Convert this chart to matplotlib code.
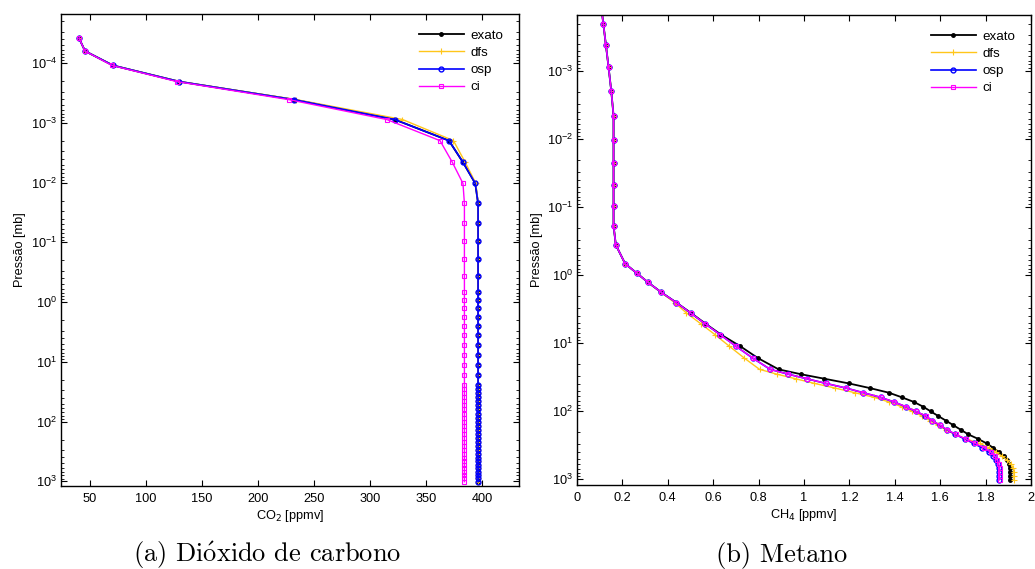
import numpy as np
import matplotlib
matplotlib.use('Agg')
import matplotlib.pyplot as plt
from matplotlib.ticker import LogLocator, NullFormatter, FuncFormatter, MultipleLocator

plt.rcParams['font.family'] = ['Liberation Sans', 'DejaVu Sans']
plt.rcParams['font.size'] = 9.2

# niveis de pressao [mb] (perfil de latitude media inverno, 0 a 120 km)
pres = [1018, 897.3, 789.7, 693.8, 608.1, 531.3, 462.7, 401.2, 346.6, 298.8,
        256.8, 219.9, 188.2, 161.0, 137.8, 117.8, 100.7, 86.1, 73.5, 62.8,
        53.7, 45.8, 39.1, 33.4, 28.6, 24.3, 16.6, 11.1, 7.56, 5.18,
        3.6, 2.53, 1.8, 1.28, 0.94, 0.68, 0.36, 0.188, 0.0955, 0.0471,
        0.0222, 0.0103, 0.00456, 0.00198, 0.000877, 0.000407, 0.000203, 0.000109, 6.26e-5, 3.83e-5]

# CO2 [ppmv]
co2_exato = [396.5, 396.5, 396.5, 396.5, 396.5, 396.5, 396.5, 396.5, 396.5, 396.5,
             396.5, 396.5, 396.5, 396.5, 396.5, 396.5, 396.5, 396.5, 396.5, 396.5,
             396.5, 396.5, 396.5, 396.5, 396.5, 396.5, 396.5, 396.5, 396.5, 396.5,
             396.5, 396.5, 396.5, 396.5, 396.5, 396.5, 396.5, 396.5, 396.5, 396.5,
             396.5, 394.0, 383.0, 370.5, 322.0, 232.0, 129.5, 70.5, 45.5, 40.2]
co2_dfs = [396.5, 396.5, 396.5, 396.5, 396.5, 396.5, 396.5, 396.5, 396.5, 396.5,
           396.5, 396.5, 396.5, 396.5, 396.5, 396.5, 396.5, 396.5, 396.5, 396.5,
           396.5, 396.5, 396.5, 396.5, 396.5, 396.5, 396.5, 396.5, 396.5, 396.5,
           396.5, 396.5, 396.5, 396.5, 396.5, 396.5, 396.5, 396.5, 396.5, 396.5,
           396.5, 394.5, 385.0, 374.5, 329.0, 234.0, 130.0, 70.5, 45.5, 40.2]
co2_osp = [396.5, 396.5, 396.5, 396.5, 396.5, 396.5, 396.5, 396.5, 396.5, 396.5,
           396.5, 396.5, 396.5, 396.5, 396.5, 396.5, 396.5, 396.5, 396.5, 396.5,
           396.5, 396.5, 396.5, 396.5, 396.5, 396.5, 396.5, 396.5, 396.5, 396.5,
           396.5, 396.5, 396.5, 396.5, 396.5, 396.5, 396.5, 396.5, 396.5, 396.5,
           396.5, 394.0, 383.0, 370.5, 322.0, 232.0, 129.5, 70.5, 45.5, 40.2]
co2_ci = [384.3, 384.3, 384.3, 384.3, 384.3, 384.3, 384.3, 384.3, 384.3, 384.3,
          384.3, 384.3, 384.3, 384.3, 384.3, 384.3, 384.3, 384.3, 384.3, 384.3,
          384.3, 384.3, 384.3, 384.3, 384.3, 384.3, 384.3, 384.3, 384.3, 384.3,
          384.3, 384.3, 384.3, 384.3, 384.3, 384.3, 384.3, 384.3, 384.3, 384.3,
          384.3, 383.0, 373.5, 362.5, 315.0, 227.4, 127.4, 69.6, 45.5, 40.2]

# CH4 [ppmv]
ch4_exato = [1.906, 1.906, 1.906, 1.906, 1.903, 1.896, 1.881, 1.859, 1.834, 1.805,
             1.768, 1.724, 1.691, 1.658, 1.625, 1.591, 1.558, 1.525, 1.485, 1.432,
             1.375, 1.290, 1.197, 1.090, 0.985, 0.888, 0.797, 0.719, 0.636, 0.566,
             0.502, 0.437, 0.372, 0.313, 0.264, 0.212, 0.171, 0.161, 0.161, 0.161,
             0.161, 0.161, 0.161, 0.151, 0.139, 0.127, 0.116, 0.106, 0.096, 0.087]
ch4_dfs = [1.925, 1.925, 1.925, 1.922, 1.913, 1.896, 1.874, 1.845, 1.815, 1.775,
           1.715, 1.665, 1.625, 1.590, 1.555, 1.520, 1.478, 1.430, 1.375, 1.310,
           1.225, 1.137, 1.046, 0.963, 0.880, 0.804, 0.737, 0.671, 0.609, 0.545,
           0.482, 0.430, 0.370, 0.313, 0.264, 0.212, 0.171, 0.161, 0.161, 0.161,
           0.161, 0.161, 0.161, 0.151, 0.139, 0.127, 0.116, 0.106, 0.096, 0.087]
ch4_osp = [1.858, 1.858, 1.858, 1.857, 1.854, 1.846, 1.834, 1.814, 1.785, 1.748,
           1.708, 1.667, 1.630, 1.598, 1.565, 1.535, 1.492, 1.448, 1.397, 1.338,
           1.262, 1.185, 1.096, 1.012, 0.930, 0.851, 0.774, 0.700, 0.632, 0.564,
           0.500, 0.437, 0.372, 0.313, 0.264, 0.212, 0.171, 0.161, 0.161, 0.161,
           0.161, 0.161, 0.161, 0.151, 0.139, 0.127, 0.116, 0.106, 0.096, 0.087]
ch4_ci = [1.862, 1.862, 1.862, 1.862, 1.859, 1.852, 1.842, 1.822, 1.795, 1.755,
          1.713, 1.669, 1.632, 1.600, 1.566, 1.537, 1.493, 1.449, 1.398, 1.339,
          1.262, 1.185, 1.096, 1.012, 0.930, 0.851, 0.774, 0.700, 0.632, 0.564,
          0.500, 0.437, 0.372, 0.313, 0.264, 0.212, 0.171, 0.161, 0.161, 0.161,
          0.161, 0.161, 0.161, 0.151, 0.139, 0.127, 0.116, 0.106, 0.096, 0.087]

nomes = ['exato', 'dfs', 'osp', 'ci']
estilos = [dict(color='black', marker='.', markersize=5, lw=1.3),
           dict(color='#FFC61A', marker='+', markersize=5, lw=1.0, mew=0.8),
           dict(color='#0000FF', marker='o', markersize=3.5, lw=1.2, mfc='none', mew=1.0),
           dict(color='#FF00FF', marker='s', markersize=3.5, lw=1.0, mfc='none', mew=0.8)]

fig = plt.figure(figsize=(10.35, 5.69), dpi=100)
ax1 = fig.add_axes([0.0589, 0.1459, 0.4425, 0.8295])
ax2 = fig.add_axes([0.5575, 0.1476, 0.4386, 0.8260])


def prepara(ax, ylim, decadas):
    ax.set_yscale('log')
    ax.set_ylim(ylim)
    ax.set_yticks(decadas)
    ax.yaxis.set_minor_locator(LogLocator(base=10, subs=np.arange(2, 10), numticks=100))
    ax.yaxis.set_minor_formatter(NullFormatter())
    ax.tick_params(which='both', direction='in', top=True, right=True, pad=3)
    ax.tick_params(axis='x', pad=5)
    ax.tick_params(which='major', length=4)
    ax.tick_params(which='minor', length=2.5)
    for s in ax.spines.values():
        s.set_linewidth(1.0)
    ax.set_ylabel('Pressão [mb]', labelpad=3)
    ax.legend(loc='upper right', frameon=False, handlelength=3.4, handletextpad=0.5,
              labelspacing=0.37, borderaxespad=0.75, fontsize=9.6)


for serie, nome, st in zip([co2_exato, co2_dfs, co2_osp, co2_ci], nomes, estilos):
    ax1.plot(serie, pres, label=nome, **st)
ax1.set_xlim(24, 433)
ax1.xaxis.set_major_locator(MultipleLocator(50))
ax1.set_xlabel('CO$_2$ [ppmv]', labelpad=2)
prepara(ax1, (1.2e3, 1.5e-5), [1e-4, 1e-3, 1e-2, 1e-1, 1e0, 1e1, 1e2, 1e3])

for serie, nome, st in zip([ch4_exato, ch4_dfs, ch4_osp, ch4_ci], nomes, estilos):
    ax2.plot(serie, pres, label=nome, **st)
ax2.set_xlim(0, 2)
ax2.xaxis.set_major_locator(MultipleLocator(0.2))
ax2.xaxis.set_major_formatter(FuncFormatter(lambda v, p: '%g' % round(v, 1)))
ax2.set_xlabel('CH$_4$ [ppmv]', labelpad=2)
prepara(ax2, (1.22e3, 1.5e-4), [1e-3, 1e-2, 1e-1, 1e0, 1e1, 1e2, 1e3])

cap = dict(ha='center', va='center', fontsize=19, family=['cmr10', 'DejaVu Serif'],
           math_fontfamily='cm')
fig.text(0.258, 0.024, r'(a) Di$\acute{\mathrm{o}}$xido de carbono', **cap)
fig.text(0.7556, 0.024, '(b) Metano', **cap)

fig.savefig('out.png', dpi=100)
